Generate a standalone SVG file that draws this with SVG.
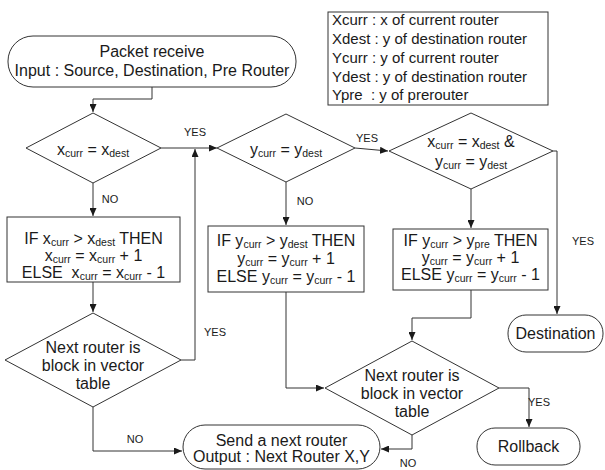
<svg xmlns="http://www.w3.org/2000/svg" width="605" height="470" viewBox="0 0 605 470">
<style>
text{font-family:"Liberation Sans",Arial,sans-serif;fill:#1a1a1a}
.t{font-size:16px;text-anchor:middle}
.lg{font-size:15px}
.lb{font-size:11px;text-anchor:middle}
.s{font-size:10.5px}
.sh{fill:#fff;stroke:#333;stroke-width:1}
.c{fill:none;stroke:#333;stroke-width:1}
</style>
<defs>
<marker id="a" markerWidth="8" markerHeight="7" refX="8" refY="3.5" orient="auto" markerUnits="userSpaceOnUse">
<path d="M0,0 L8,3.5 L0,7 z" fill="#1a1a1a"/>
</marker>
</defs>
<g id="connectors">
<path class="c" d="M152,87 V99 H93 V112" marker-end="url(#a)"/>
<path class="c" d="M161,148 H217" marker-end="url(#a)"/>
<path class="c" d="M93,183 V216" marker-end="url(#a)"/>
<path class="c" d="M93,282 V312" marker-end="url(#a)"/>
<path class="c" d="M181,360 H195 V149" marker-end="url(#a)"/>
<path class="c" d="M93,407 V451 H182" marker-end="url(#a)"/>
<path class="c" d="M355,148 L388,151" marker-end="url(#a)"/>
<path class="c" d="M286,182 V225" marker-end="url(#a)"/>
<path class="c" d="M286,292 V388 H324" marker-end="url(#a)"/>
<path class="c" d="M471,189 V228" marker-end="url(#a)"/>
<path class="c" d="M553,151 H557 V314" marker-end="url(#a)"/>
<path class="c" d="M471,290 V318 H412 V340" marker-end="url(#a)"/>
<path class="c" d="M499,388 H529 V427" marker-end="url(#a)"/>
<path class="c" d="M412,435 V449 H381" marker-end="url(#a)"/>
<text class="lb" x="195" y="136">YES</text>
<text class="lb" x="110" y="203">NO</text>
<text class="lb" x="215" y="336">YES</text>
<text class="lb" x="135" y="443">NO</text>
<text class="lb" x="367" y="142">YES</text>
<text class="lb" x="305" y="205">NO</text>
<text class="lb" x="583" y="245">YES</text>
<text class="lb" x="539" y="406">YES</text>
<text class="lb" x="408" y="467">NO</text>
</g>
<g id="legend">
<rect class="sh" x="328" y="12" width="220" height="93"/>
<text class="lg" x="332" y="25">Xcurr : x of current router</text>
<text class="lg" x="332" y="44">Xdest : y of destination router</text>
<text class="lg" x="332" y="63">Ycurr : y of current router</text>
<text class="lg" x="332" y="82">Ydest : y of destination router</text>
<text class="lg" x="332" y="100" xml:space="preserve">Ypre  : y of prerouter</text>
</g>
<g id="start">
<rect class="sh" x="8" y="36" width="288" height="51" rx="25"/>
<text class="t" x="152" y="57">Packet receive</text>
<text class="t" x="152" y="76">Input : Source, Destination, Pre Router</text>
</g>
<g id="d1">
<polygon class="sh" points="93,113 161,148 93,183 26,148"/>
<text class="t" x="93" y="155">x<tspan class="s" dy="2">curr</tspan><tspan dy="-2"> = x</tspan><tspan class="s" dy="2">dest</tspan></text>
</g>
<g id="d2">
<polygon class="sh" points="286,114 355,148 286,182 217,148"/>
<text class="t" x="286" y="155">y<tspan class="s" dy="2">curr</tspan><tspan dy="-2"> = y</tspan><tspan class="s" dy="2">dest</tspan></text>
</g>
<g id="d3">
<polygon class="sh" points="471,113 553,151 471,189 389,151"/>
<text class="t" x="471" y="147">x<tspan class="s" dy="2">curr</tspan><tspan dy="-2"> = x</tspan><tspan class="s" dy="2">dest</tspan><tspan dy="-2"> &amp;</tspan></text>
<text class="t" x="471" y="167">y<tspan class="s" dy="2">curr</tspan><tspan dy="-2"> = y</tspan><tspan class="s" dy="2">dest</tspan></text>
</g>
<g id="b1">
<rect class="sh" x="7" y="217" width="173" height="65"/>
<text class="t" x="93.5" y="244">IF x<tspan class="s" dy="2">curr</tspan><tspan dy="-2"> &gt; x</tspan><tspan class="s" dy="2">dest</tspan><tspan dy="-2"> THEN</tspan></text>
<text class="t" x="93.5" y="261">x<tspan class="s" dy="2">curr</tspan><tspan dy="-2"> = x</tspan><tspan class="s" dy="2">curr</tspan><tspan dy="-2"> + 1</tspan></text>
<text class="t" x="93.5" y="278" xml:space="preserve">ELSE  x<tspan class="s" dy="2">curr</tspan><tspan dy="-2"> = x</tspan><tspan class="s" dy="2">curr</tspan><tspan dy="-2"> - 1</tspan></text>
</g>
<g id="b2">
<rect class="sh" x="208" y="226" width="156" height="66"/>
<text class="t" x="286" y="246">IF y<tspan class="s" dy="2">curr</tspan><tspan dy="-2"> &gt; y</tspan><tspan class="s" dy="2">dest</tspan><tspan dy="-2"> THEN</tspan></text>
<text class="t" x="286" y="264">y<tspan class="s" dy="2">curr</tspan><tspan dy="-2"> = y</tspan><tspan class="s" dy="2">curr</tspan><tspan dy="-2"> + 1</tspan></text>
<text class="t" x="286" y="282">ELSE y<tspan class="s" dy="2">curr</tspan><tspan dy="-2"> = y</tspan><tspan class="s" dy="2">curr</tspan><tspan dy="-2"> - 1</tspan></text>
</g>
<g id="b3">
<rect class="sh" x="393" y="229" width="155" height="61"/>
<text class="t" x="470.5" y="246">IF y<tspan class="s" dy="2">curr</tspan><tspan dy="-2"> &gt; y</tspan><tspan class="s" dy="2">pre</tspan><tspan dy="-2"> THEN</tspan></text>
<text class="t" x="470.5" y="263">y<tspan class="s" dy="2">curr</tspan><tspan dy="-2"> = y</tspan><tspan class="s" dy="2">curr</tspan><tspan dy="-2"> + 1</tspan></text>
<text class="t" x="470.5" y="280">ELSE y<tspan class="s" dy="2">curr</tspan><tspan dy="-2"> = y</tspan><tspan class="s" dy="2">curr</tspan><tspan dy="-2"> - 1</tspan></text>
</g>
<g id="d4">
<polygon class="sh" points="93,313 181,360 93,407 5,360"/>
<text class="t" x="93" y="353">Next router is</text>
<text class="t" x="93" y="371">block in vector</text>
<text class="t" x="93" y="389">table</text>
</g>
<g id="d5">
<polygon class="sh" points="412,341 499,388 412,435 325,388"/>
<text class="t" x="412" y="381">Next router is</text>
<text class="t" x="412" y="399">block in vector</text>
<text class="t" x="412" y="417">table</text>
</g>
<g id="destination">
<rect class="sh" x="508" y="315" width="95" height="37" rx="18"/>
<text class="t" x="555.5" y="339">Destination</text>
</g>
<g id="rollback">
<rect class="sh" x="477" y="428" width="103" height="37" rx="18"/>
<text class="t" x="528.5" y="452">Rollback</text>
</g>
<g id="send">
<rect class="sh" x="183" y="425" width="197" height="44" rx="22"/>
<text class="t" x="281.5" y="446">Send a next router</text>
<text class="t" x="281.5" y="462">Output : Next Router X,Y</text>
</g>
</svg>
